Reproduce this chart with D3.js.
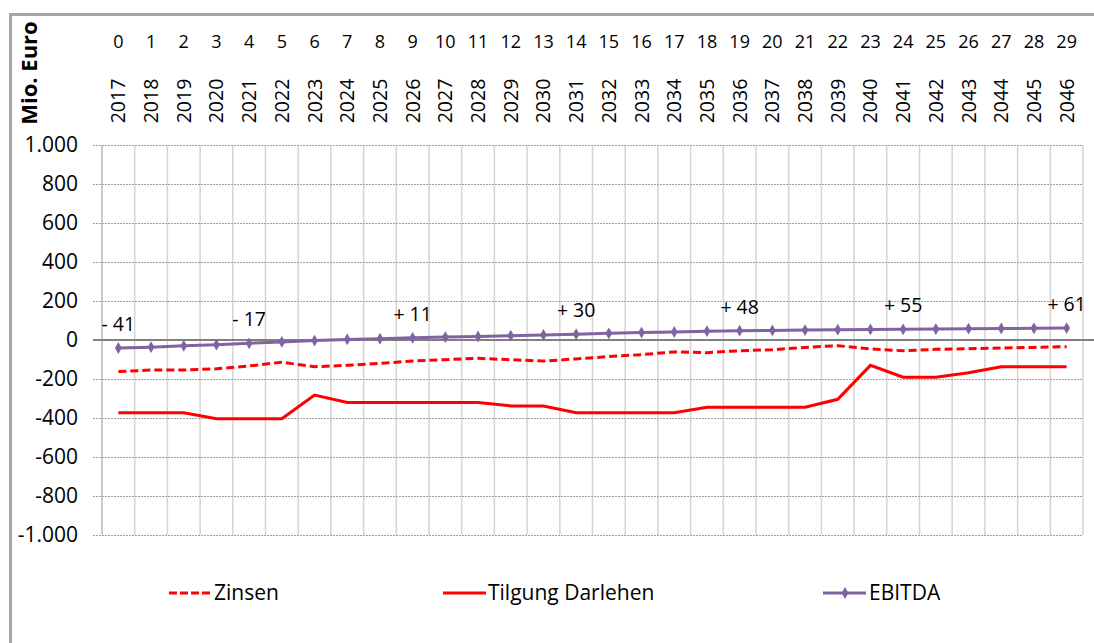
<html>
  <head>
    <meta charset="utf-8">
  </head>
  <style type="text/css">
    body { margin: 0; background: #fff; overflow: hidden; }
    svg { display: block; }
    text { font-family: "Open Sans", sans-serif; fill: #000; }
  </style>
  <body>
    <script src="https://cdnjs.cloudflare.com/ajax/libs/d3/7.8.5/d3.min.js"></script>
    <script type="text/javascript">
      const periods = [...Array(30).keys()]
      const years = periods.map(p => String(2017 + p))
      const zinsen = [-162, -154, -154, -148, -133, -114, -137, -130, -120, -108,
                      -101, -94, -101, -108, -97, -85, -75, -61, -65, -55,
                      -50, -38, -29, -46, -55, -48, -45, -41, -38, -34]
      const tilgung = [-373, -373, -373, -404, -404, -404, -282, -320, -320, -320,
                       -320, -320, -338, -338, -373, -373, -373, -373, -345, -345,
                       -345, -345, -304, -130, -191, -191, -168, -137, -137, -137]
      const ebitda = [-41, -37, -30, -24, -17, -10, -3, 3, 7, 11,
                      15, 18, 22, 26, 30, 34, 38, 41, 45, 48,
                      49, 51, 53, 54, 55, 56, 58, 59, 60, 61]
      const labelIdx = [0, 4, 9, 14, 19, 24, 29]
      const yTicks = [1000, 800, 600, 400, 200, 0, -200, -400, -600, -800, -1000]
      const legendNames = ["Zinsen", "Tilgung Darlehen", "EBITDA"]

      const W = 1094, H = 643
      const plot = { left: 102, right: 1083, top: 145, bottom: 535 }
      const red = "#ff0000", purple = "#8064a2"

      let svg = d3.select("body").append("svg")
        .attr("width", W).attr("height", H)

      // frame: only top and left edges lie inside the picture
      svg.append("path")
        .attr("d", `M10.5,${H}V14.5H${W}`)
        .attr("fill", "none").attr("stroke", "#a6a6a6").attr("stroke-width", 3)

      const x = d3.scaleBand().domain(periods).range([plot.left, plot.right]).padding(0)
      const cx = d => x(d) + x.bandwidth() / 2
      const y = d3.scaleLinear().domain([-1000, 1000]).range([plot.bottom, plot.top])

      // vertical grid lines at band edges
      const edges = periods.map(p => x(p)).concat([plot.right])
      svg.append("g").selectAll("line").data(edges.slice(1)).enter().append("line")
        .attr("x1", d => d).attr("x2", d => d)
        .attr("y1", plot.top).attr("y2", plot.bottom)
        .attr("stroke", "#d4d4d4").attr("stroke-width", 1.5)

      // y axis with dotted horizontal grid
      const fmt = v => d3.format(",")(v).replace(/,/g, ".").replace("\u2212", "-")
      const yAxis = svg.append("g")
        .attr("transform", `translate(${plot.left},0)`)
        .call(d3.axisLeft(y).tickValues(yTicks).tickFormat(fmt)
          .tickSize(-(plot.right - plot.left)).tickPadding(24))
      yAxis.select(".domain").remove()
      yAxis.selectAll(".tick line")
        .attr("x1", -9)
        .attr("stroke", "#a0a0a0").attr("stroke-dasharray", "2,1")
      yAxis.selectAll(".tick text")
        .attr("font-size", 21).attr("font-family", "Open Sans").attr("fill", "#000")

      // left axis line
      svg.append("line")
        .attr("x1", plot.left).attr("x2", plot.left)
        .attr("y1", plot.top).attr("y2", plot.bottom)
        .attr("stroke", "#b8b8b8").attr("stroke-width", 1.5)

      // zero line
      svg.append("line")
        .attr("x1", plot.left - 9).attr("x2", W)
        .attr("y1", y(0)).attr("y2", y(0))
        .attr("stroke", "#808080").attr("stroke-width", 2)

      // top labels: period index and years
      svg.append("g").selectAll("text").data(periods).enter().append("text")
        .attr("x", cx).attr("y", 48)
        .attr("text-anchor", "middle").attr("font-size", 18)
        .text(d => d)
      svg.append("g").selectAll("text").data(periods).enter().append("text")
        .attr("transform", d => `translate(${cx(d) + 7},101) rotate(-90)`)
        .attr("text-anchor", "middle").attr("font-size", 19.5)
        .text(d => years[d])

      svg.append("text")
        .attr("transform", "translate(37,73) rotate(-90)")
        .attr("text-anchor", "middle").attr("font-size", 22).attr("font-weight", "bold")
        .text("Mio. Euro")

      const line = d3.line().x((d, i) => cx(i)).y(d => y(d))

      svg.append("path").datum(tilgung)
        .attr("d", line).attr("fill", "none")
        .attr("stroke", red).attr("stroke-width", 3)
      svg.append("path").datum(zinsen)
        .attr("d", line).attr("fill", "none")
        .attr("stroke", red).attr("stroke-width", 3).attr("stroke-dasharray", "8,4")
      svg.append("path").datum(ebitda)
        .attr("d", line).attr("fill", "none")
        .attr("stroke", purple).attr("stroke-width", 3)

      const diamond = d3.symbol().type(d3.symbolDiamond).size(40)
      svg.append("g").selectAll("path").data(ebitda).enter().append("path")
        .attr("d", diamond)
        .attr("transform", (d, i) => `translate(${cx(i)},${y(d)})`)
        .attr("fill", purple)

      // value labels
      const sign = v => (v < 0 ? "- " : "+ ") + Math.abs(v)
      svg.append("g").selectAll("text").data(labelIdx).enter().append("text")
        .attr("x", cx).attr("y", d => y(ebitda[d]) - 17)
        .attr("text-anchor", "middle").attr("font-size", 19.5)
        .text(d => sign(ebitda[d]))

      // legend
      const legendX = [169, 443, 823]
      const ly = 593
      const leg = svg.append("g").selectAll("g").data(legendNames).enter().append("g")
        .attr("transform", (d, i) => `translate(${legendX[i]},${ly})`)
      leg.append("line")
        .attr("x1", 0).attr("x2", 43).attr("y1", 0).attr("y2", 0)
        .attr("stroke", (d, i) => i == 2 ? purple : red).attr("stroke-width", 3)
        .attr("stroke-dasharray", (d, i) => i == 0 ? "8,3" : null)
      leg.filter((d, i) => i == 2).append("path")
        .attr("d", diamond).attr("transform", "translate(22,0)").attr("fill", purple)
      leg.append("text")
        .attr("x", (d, i) => i == 2 ? 46 : 45).attr("y", 0).attr("dy", "0.35em")
        .attr("font-size", 21)
        .text(d => d)
    </script>
  </body>
</html>
